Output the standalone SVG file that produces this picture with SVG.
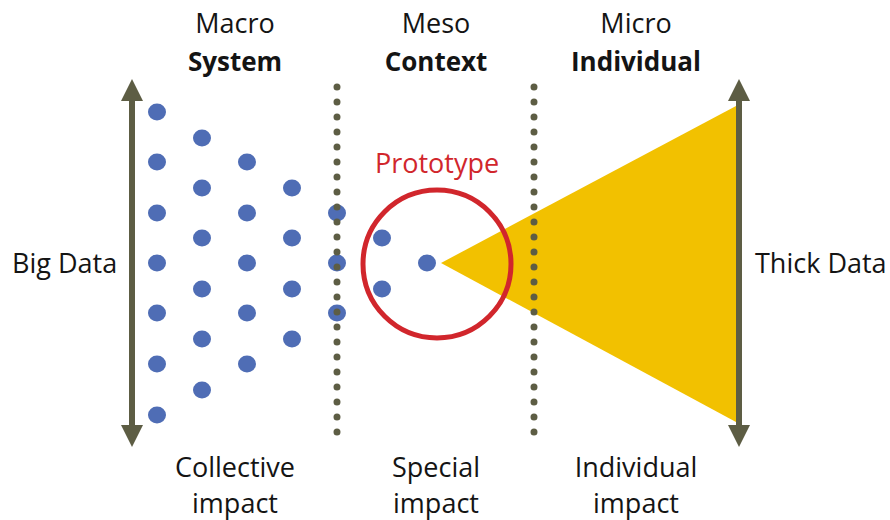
<svg xmlns="http://www.w3.org/2000/svg" width="890" height="520" viewBox="0 0 890 520">
  <defs>
    <style>
      text { font-family: "Open Sans", "Noto Sans", "Liberation Sans", sans-serif; font-size: 27px; fill: #141414; }
      .c { text-anchor: middle; }
      .b { font-weight: bold; font-size: 26px; }
      .red { fill: #D1262C; }
      .dot { fill: #4F6DB5; }
      .axis { stroke: #5D5D44; stroke-width: 6; fill: none; }
      .head { fill: #5D5D44; }
      .divider { stroke: #5D5D44; stroke-width: 7; stroke-linecap: round; stroke-dasharray: 0 15; fill: none; }
    </style>
    <ellipse id="d" class="dot" rx="9" ry="8.5"/>
  </defs>

  <rect width="890" height="520" fill="#ffffff"/>

  <!-- column headings -->
  <g id="headings">
    <text class="c" x="235" y="33">Macro</text>
    <text class="c b" x="235" y="71">System</text>
    <text class="c" x="436" y="33">Meso</text>
    <text class="c b" x="436" y="71">Context</text>
    <text class="c" x="636" y="33">Micro</text>
    <text class="c b" x="636" y="71">Individual</text>
  </g>

  <!-- yellow cone of individual focus -->
  <g id="cone">
    <polygon points="441,263 736,106 736,422" fill="#F2C100"/>
  </g>

  <!-- big data axis -->
  <g id="big-data">
    <line class="axis" x1="132" y1="98" x2="132" y2="428"/>
    <polygon class="head" points="132,79 121,101 143,101"/>
    <polygon class="head" points="132,447 121,425 143,425"/>
    <text x="12" y="273">Big Data</text>
  </g>

  <!-- thick data axis -->
  <g id="thick-data">
    <line class="axis" x1="739" y1="98" x2="739" y2="428"/>
    <polygon class="head" points="739,79 728,101 750,101"/>
    <polygon class="head" points="739,447 728,425 750,425"/>
    <text x="755" y="273">Thick Data</text>
  </g>

  <!-- population dots -->
  <g id="population">
    <use href="#d" x="157" y="112"/>
    <use href="#d" x="157" y="162"/>
    <use href="#d" x="157" y="213"/>
    <use href="#d" x="157" y="263"/>
    <use href="#d" x="157" y="313"/>
    <use href="#d" x="157" y="364"/>
    <use href="#d" x="157" y="415"/>

    <use href="#d" x="202" y="138"/>
    <use href="#d" x="202" y="188"/>
    <use href="#d" x="202" y="238"/>
    <use href="#d" x="202" y="289"/>
    <use href="#d" x="202" y="339"/>
    <use href="#d" x="202" y="390"/>

    <use href="#d" x="247" y="162"/>
    <use href="#d" x="247" y="213"/>
    <use href="#d" x="247" y="263"/>
    <use href="#d" x="247" y="313"/>
    <use href="#d" x="247" y="364"/>

    <use href="#d" x="292" y="188"/>
    <use href="#d" x="292" y="238"/>
    <use href="#d" x="292" y="289"/>
    <use href="#d" x="292" y="339"/>

    <use href="#d" x="337" y="213"/>
    <use href="#d" x="337" y="263"/>
    <use href="#d" x="337" y="313"/>
  </g>

  <!-- dotted dividers between levels -->
  <g id="dividers">
    <line class="divider" x1="337" y1="87" x2="337" y2="447"/>
    <line class="divider" x1="534" y1="87" x2="534" y2="447"/>
  </g>

  <!-- prototype circle -->
  <g id="prototype">
    <circle cx="437" cy="264" r="74" fill="none" stroke="#D1262C" stroke-width="5"/>
    <use href="#d" x="382" y="238"/>
    <use href="#d" x="382" y="289"/>
    <use href="#d" x="427" y="263"/>
    <text class="c red" x="437" y="173">Prototype</text>
  </g>

  <!-- impact labels -->
  <g id="impacts">
    <text class="c" x="235" y="477">Collective</text>
    <text class="c" x="235" y="513">impact</text>
    <text class="c" x="436" y="477">Special</text>
    <text class="c" x="436" y="513">impact</text>
    <text class="c" x="636" y="477">Individual</text>
    <text class="c" x="636" y="513">impact</text>
  </g>
</svg>
